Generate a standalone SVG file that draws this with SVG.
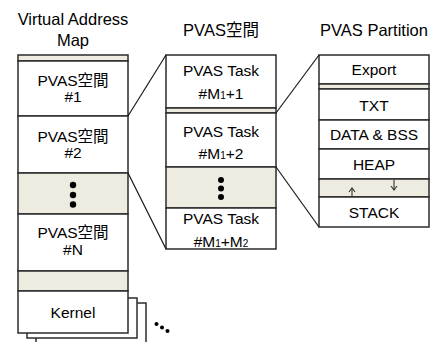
<svg xmlns="http://www.w3.org/2000/svg" width="431" height="342" viewBox="0 0 431 342">
<defs>
<style>
.b{fill:#ffffff;stroke:#2b2b2b;stroke-width:1.5}
.g{fill:#eeece1;stroke:#2b2b2b;stroke-width:1.5}
.t{font-family:"Liberation Sans",Arial,sans-serif;font-size:15.5px;fill:#000;text-anchor:middle}
.h{font-family:"Liberation Sans","Noto Sans CJK JP",Arial,sans-serif;font-size:15.5px;fill:#000;text-anchor:middle}
.hd{font-size:16.5px}
.sub{font-size:10px}
.c{stroke:#1a1a1a;stroke-width:1.2;fill:none}
.d{fill:#000}
.a{stroke:#333;stroke-width:1.1;fill:none}
</style>
</defs>
<rect width="431" height="342" fill="#ffffff"/>

<g id="headers">
<text class="h hd" x="73" y="25">Virtual Address</text>
<text class="h hd" x="73" y="46">Map</text>
<text class="h hd" x="221" y="36">PVAS空間</text>
<text class="h hd" x="374" y="36">PVAS Partition</text>
</g>

<g id="kernel-shadows">
<rect class="b" x="36" y="303" width="110" height="50"/>
<rect class="b" x="27" y="298" width="110" height="40"/>
</g>

<g id="left-top-gap"><rect class="g" x="18" y="55" width="110" height="6"/></g>
<g id="pvas1"><rect class="b" x="18" y="61" width="110" height="55"/>
<text class="h" x="73" y="86">PVAS空間</text><text class="h" x="73" y="102">#1</text></g>
<g id="pvas2"><rect class="b" x="18" y="116" width="110" height="57"/>
<text class="h" x="73" y="142">PVAS空間</text><text class="h" x="73" y="158">#2</text></g>
<g id="left-ellipsis"><rect class="g" x="18" y="173" width="110" height="41"/>
<circle class="d" cx="73" cy="185" r="3.2"/><circle class="d" cx="73" cy="195" r="3.2"/><circle class="d" cx="73" cy="204.5" r="3.2"/></g>
<g id="pvasN"><rect class="b" x="18" y="214" width="110" height="57"/>
<text class="h" x="73" y="238">PVAS空間</text><text class="h" x="73" y="255">#N</text></g>
<g id="left-gap"><rect class="g" x="18" y="271" width="110" height="20"/></g>
<g id="kernel"><rect class="b" x="18" y="291" width="110" height="42"/>
<text class="t" x="73" y="318">Kernel</text></g>

<g id="more-dots">
<circle class="d" cx="156.5" cy="324" r="2"/><circle class="d" cx="162" cy="327.5" r="2"/><circle class="d" cx="167.5" cy="331" r="2"/>
</g>

<g id="task1"><rect class="b" x="166" y="55" width="110" height="53"/>
<text class="t" x="221" y="76">PVAS Task</text><text class="t" x="221" y="99">#M<tspan class="sub">1</tspan>+1</text></g>
<g id="mid-gap"><rect class="g" x="166" y="108" width="110" height="5"/></g>
<g id="task2"><rect class="b" x="166" y="113" width="110" height="54"/>
<text class="t" x="221" y="137">PVAS Task</text><text class="t" x="221" y="159">#M<tspan class="sub">1</tspan>+2</text></g>
<g id="mid-ellipsis"><rect class="g" x="166" y="167" width="110" height="41"/>
<circle class="d" cx="221" cy="180" r="3"/><circle class="d" cx="221" cy="188.5" r="3"/><circle class="d" cx="221" cy="197" r="3"/></g>
<g id="task3"><rect class="b" x="166" y="208" width="110" height="41"/>
<text class="t" x="221" y="224">PVAS Task</text><text class="t" x="221" y="247">#M<tspan class="sub">1</tspan>+M<tspan class="sub">2</tspan></text></g>

<g id="export"><rect class="b" x="319" y="55" width="110" height="29"/>
<text class="t" x="374" y="75">Export</text></g>
<g id="right-gap"><rect class="g" x="319" y="84" width="110" height="5"/></g>
<g id="txt"><rect class="b" x="319" y="89" width="110" height="31"/>
<text class="t" x="374" y="111">TXT</text></g>
<g id="data"><rect class="b" x="319" y="120" width="110" height="29"/>
<text class="t" x="374" y="140">DATA &amp; BSS</text></g>
<g id="heap"><rect class="b" x="319" y="149" width="110" height="30"/>
<text class="t" x="374" y="170">HEAP</text></g>
<g id="free"><rect class="g" x="319" y="179" width="110" height="18"/>
<line class="a" x1="352" y1="196.5" x2="352" y2="188"/>
<polyline class="a" points="349,192 352,188 355,192"/>
<line class="a" x1="394" y1="179.5" x2="394" y2="190"/>
<polyline class="a" points="391,186 394,190 397,186"/></g>
<g id="stack"><rect class="b" x="319" y="197" width="110" height="30"/>
<text class="t" x="374" y="218">STACK</text></g>

<g id="connectors">
<line class="c" x1="128" y1="116" x2="166" y2="55"/>
<line class="c" x1="128" y1="173" x2="166" y2="249"/>
<line class="c" x1="276" y1="113" x2="319" y2="55"/>
<line class="c" x1="276" y1="167" x2="319" y2="227"/>
</g>
</svg>
